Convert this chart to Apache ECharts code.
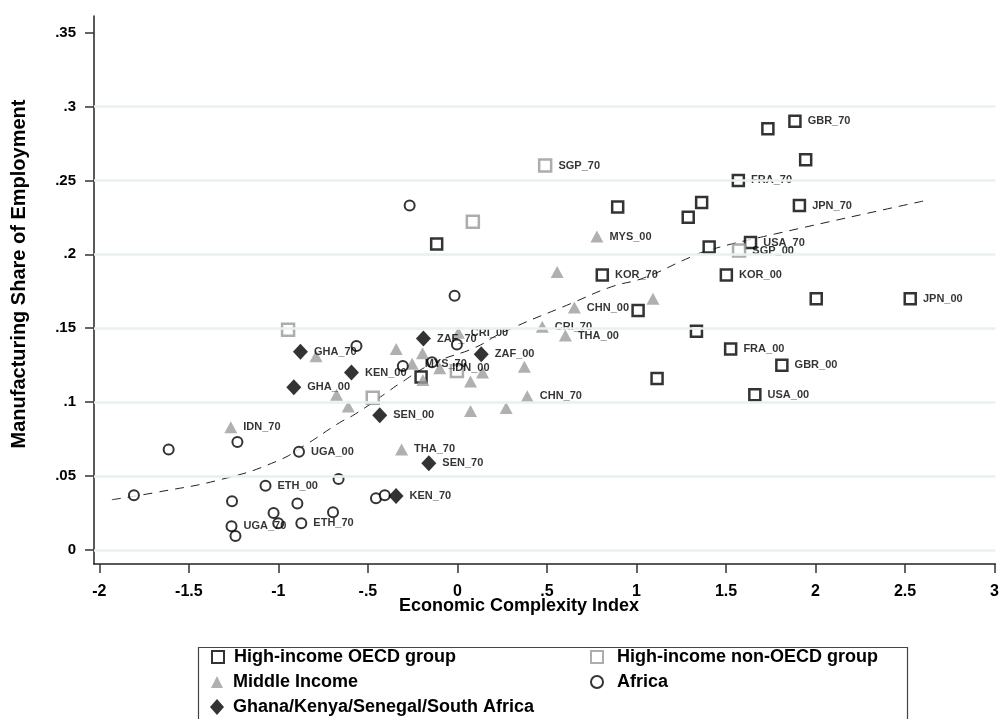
<!DOCTYPE html>
<html><head><meta charset="utf-8">
<script src="https://cdn.jsdelivr.net/npm/echarts@6/dist/echarts.min.js"></script>
<style>html,body{margin:0;padding:0;background:#fff}#c{width:1002px;height:719px}</style>
</head><body><div id="c"></div>
<script>
// ---- data ----
const xTicks = [-2,-1.5,-1,-0.5,0,0.5,1,1.5,2,2.5,3];
const yTicks = [0,0.05,0.1,0.15,0.2,0.25,0.3,0.35];

const oecdX = [1.734,1.885,1.945,1.569,1.910,0.895,1.364,1.289,1.406,-0.116,0.809,1.637,1.502,2.004,2.529,1.335,1.526,1.812,1.661,1.009,1.115,-0.203];
const oecdY = [0.285,0.290,0.264,0.250,0.233,0.232,0.235,0.225,0.205,0.207,0.186,0.208,0.186,0.170,0.170,0.148,0.136,0.125,0.105,0.162,0.116,0.117];
const oecdL = ['','GBR_70','','FRA_70','JPN_70','','','','','','KOR_70','USA_70','KOR_00','','JPN_00','','FRA_00','GBR_00','USA_00','','',''];

const nonX = [0.490,0.086,1.573,-0.946,-0.473,-0.003];
const nonY = [0.260,0.222,0.2025,0.149,0.103,0.121];
const nonL = ['SGP_70','','SGP_00','','',''];

const midX = [0.779,0.557,0.653,1.092,0.474,0.603,0.005,-0.342,-0.195,-0.253,-0.193,0.073,0.140,0.374,0.390,0.073,0.272,-0.312,-0.790,-0.675,-0.610,-1.266,-0.099];
const midY = [0.212,0.188,0.164,0.170,0.151,0.145,0.147,0.136,0.133,0.126,0.115,0.114,0.120,0.124,0.104,0.094,0.096,0.068,0.131,0.105,0.097,0.083,0.123];
const midL = ['MYS_00','','CHN_00','','CRI_70','THA_00','CRI_00','','','MYS_70','','','','','CHN_70','','','THA_70','','','','IDN_70','IDN_00'];

const afrX = [-0.267,-0.016,-0.564,-0.305,-0.003,-0.142,-1.229,-1.613,-0.885,-1.807,-1.259,-1.072,-1.027,-1.001,-0.894,-0.664,-0.695,-0.872,-1.262,-1.240,-0.455,-0.406];
const afrY = [0.233,0.172,0.138,0.1245,0.139,0.127,0.073,0.068,0.0665,0.037,0.033,0.0435,0.025,0.018,0.0315,0.048,0.0255,0.018,0.016,0.0095,0.035,0.037];
const afrL = ['','','','','','','','','UGA_00','','','ETH_00','','','','','','ETH_70','UGA_70','','',''];

const gkX = [-0.877,-0.592,-0.914,-0.434,-0.190,0.133,-0.160,-0.343];
const gkY = [0.134,0.120,0.110,0.0912,0.143,0.1324,0.0586,0.0365];
const gkL = ['GHA_70','KEN_00','GHA_00','SEN_00','ZAF_70','ZAF_00','SEN_70','KEN_70'];

const fitX = [-1.93,-1.68,-1.31,-1.01,-0.85,-0.66,-0.57,-0.40,-0.33,-0.14,0.10,0.25,0.64,0.86,1.04,1.30,1.41,1.71,2.62];
const fitY = [0.034,0.039,0.048,0.060,0.071,0.086,0.092,0.106,0.112,0.126,0.137,0.147,0.167,0.178,0.184,0.198,0.203,0.212,0.2365];

const names = ['High-income OECD group','High-income non-OECD group','Middle Income','Africa','Ghana/Kenya/Senegal/South Africa'];
// ---------------------------------------

const zip = (xs, ys, ls) => xs.map((x, i) => [x, ys[i], ls ? ls[i] : '']);
const F = '"Liberation Sans", Arial, sans-serif';
const fmt = v => { let s = String(+v.toFixed(4)); return s.replace(/^(-?)0\./, '$1.'); };
const lbl = {show:true, position:'right', distance:6, formatter:p => p.data[2], color:'#000', fontFamily:F, fontWeight:'bold', fontSize:11};

// legend placement helper (one legend per entry so the two-column box is exact)
const legPos = [[206,643],[585,643],[206,668],[585,668],[205,693]];
const legends = names.map((n, i) => ({
  data:[n], left:legPos[i][0], top:legPos[i][1],
  itemWidth: i === 4 ? 14 : 12, itemHeight: i === 4 ? 16 : 12, itemGap:0,
  textStyle:{fontFamily:F, fontWeight:'bold', fontSize:18, lineHeight:18, color:'#000',
             padding:[0,0,0, (i === 1 || i === 3) ? 9 : (i === 4 ? 4 : 5)]}
}));

const chart = echarts.init(document.getElementById('c'), null, {renderer:'canvas'});
chart.setOption({
  animation:false,
  backgroundColor:'#fff',
  grid:{left:94, right:2, top:16, bottom:155, containLabel:false},
  xAxis:{type:'value', min:-2.03, max:3.005,
    axisLine:{show:true, onZero:false, lineStyle:{color:'#222', width:1.5}},
    axisTick:{show:true, length:9, customValues:xTicks, lineStyle:{color:'#333', width:1.5}},
    axisLabel:{customValues:xTicks, formatter:fmt, margin:20, color:'#000', fontFamily:F, fontWeight:'bold', fontSize:16},
    splitLine:{show:false}},
  yAxis:{type:'value', min:-0.0095, max:0.3612,
    axisLine:{show:true, onZero:false, lineStyle:{color:'#222', width:1.5}},
    axisTick:{show:true, length:9, customValues:yTicks, lineStyle:{color:'#333', width:1.5}},
    axisLabel:{customValues:yTicks, formatter:fmt, margin:18, color:'#000', fontFamily:F, fontWeight:'bold', fontSize:15},
    splitLine:{show:false}},
  legend:legends,
  graphic:[
    {type:'rect', left:196, top:645, shape:{width:709, height:80}, style:{fill:'none', stroke:'#444', lineWidth:1.2}, z:-1},
    {type:'text', x:519, y:606, style:{text:'Economic Complexity Index', font:'bold 18px "Liberation Sans", Arial', fill:'#000', align:'center', verticalAlign:'middle'}},
    {type:'text', x:19, y:274, rotation:Math.PI/2, style:{text:'Manufacturing Share of Employment', font:'bold 20px "Liberation Sans", Arial', fill:'#000', align:'center', verticalAlign:'middle'}}
  ],
  series:[
    {type:'scatter', name:'grid', data:[], silent:true, z:0,
     markLine:{silent:true, symbol:'none', label:{show:false}, animation:false,
       lineStyle:{type:'solid', color:'#e9f0f2', width:2.5},
       data:yTicks.filter(v=>v<0.34).map(v=>({yAxis:v}))}},
    {type:'line', name:'fit', data:zip(fitX, fitY), smooth:true, showSymbol:false, symbol:'none', z:1,
     lineStyle:{color:'#222', width:1, type:[9,7]}},
    {type:'scatter', name:names[0], data:zip(oecdX,oecdY,oecdL), symbol:'rect', symbolSize:11, z:3,
     itemStyle:{color:'#fff', borderColor:'#000', borderWidth:2.5}, label:lbl},
    {type:'scatter', name:names[1], data:zip(nonX,nonY,nonL), symbol:'rect', symbolSize:12, z:3,
     itemStyle:{color:'#fff', borderColor:'#999', borderWidth:2.5}, label:lbl},
    {type:'scatter', name:names[2], data:zip(midX,midY,midL), symbol:'triangle', symbolSize:[13,12], z:3,
     itemStyle:{color:'#9c9c9c'}, label:lbl},
    {type:'scatter', name:names[3], data:zip(afrX,afrY,afrL), symbol:'circle', symbolSize:10, z:3,
     itemStyle:{color:'#fff', borderColor:'#000', borderWidth:2}, label:lbl},
    {type:'scatter', name:names[4], data:zip(gkX,gkY,gkL), symbol:'diamond', symbolSize:[15,16], z:4,
     itemStyle:{color:'#000'}, label:lbl}
  ]
});
</script></body></html>
